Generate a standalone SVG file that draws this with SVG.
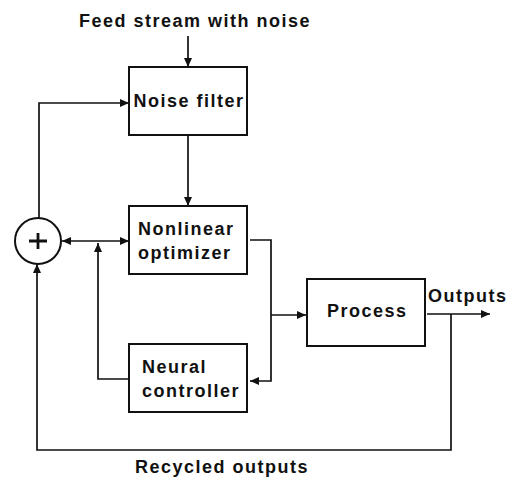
<svg xmlns="http://www.w3.org/2000/svg" width="508" height="477" viewBox="0 0 508 477">
<style>
text{font-family:"Liberation Sans",Arial,sans-serif;font-weight:bold;font-size:18px;letter-spacing:1.5px;fill:#111}
.box{fill:#fff;stroke:#111;stroke-width:2}
.c{fill:none;stroke:#111;stroke-width:1.7}
</style>
<defs>
<marker id="ah" markerUnits="userSpaceOnUse" markerWidth="9" markerHeight="8" refX="9" refY="4" orient="auto-start-reverse" viewBox="0 0 9 8">
<path d="M0,0 L9,4 L0,8 z" fill="#111"/>
</marker>
</defs>
<rect width="508" height="477" fill="#fff"/>
<text id="label-feed" x="79" y="27">Feed stream with noise</text>
<text id="label-recycled" x="135" y="473">Recycled outputs</text>
<g id="connectors">
<line class="c" x1="188" y1="36" x2="188" y2="67" marker-end="url(#ah)"/>
<line class="c" x1="188" y1="135" x2="188" y2="206" marker-end="url(#ah)"/>
<path class="c" d="M39,218 V103 H129" marker-end="url(#ah)"/>
<line class="c" x1="62" y1="241" x2="129" y2="241" marker-start="url(#ah)" marker-end="url(#ah)"/>
<path class="c" d="M129,379 H98 V243" marker-end="url(#ah)"/>
<path class="c" d="M250,240 H271 V381 H250" marker-end="url(#ah)"/>
<path class="c" d="M271,315 H306" marker-end="url(#ah)"/>
<path class="c" d="M427,314 H490" marker-end="url(#ah)"/>
<path class="c" d="M451,314 V450 H37 V264" marker-end="url(#ah)"/>
</g>
<g id="sum">
<circle cx="38" cy="241" r="23" fill="#fff" stroke="#111" stroke-width="2"/>
<path d="M29,241 H47 M38,233 V249" stroke="#111" stroke-width="2.8" fill="none"/>
</g>
<g id="noise-filter">
<rect class="box" x="129" y="67" width="118" height="68"/>
<text x="189" y="107" text-anchor="middle">Noise filter</text>
</g>
<g id="nonlinear-optimizer">
<rect class="box" x="129" y="206" width="118" height="68"/>
<text x="138" y="235">Nonlinear</text>
<text x="138" y="259">optimizer</text>
</g>
<g id="neural-controller">
<rect class="box" x="129" y="344" width="118" height="68"/>
<text x="142" y="373">Neural</text>
<text x="142" y="397">controller</text>
</g>
<g id="process">
<rect class="box" x="307" y="279" width="118" height="67"/>
<text x="327" y="317">Process</text>
</g>
<text id="label-outputs" x="428" y="302">Outputs</text>
</svg>
